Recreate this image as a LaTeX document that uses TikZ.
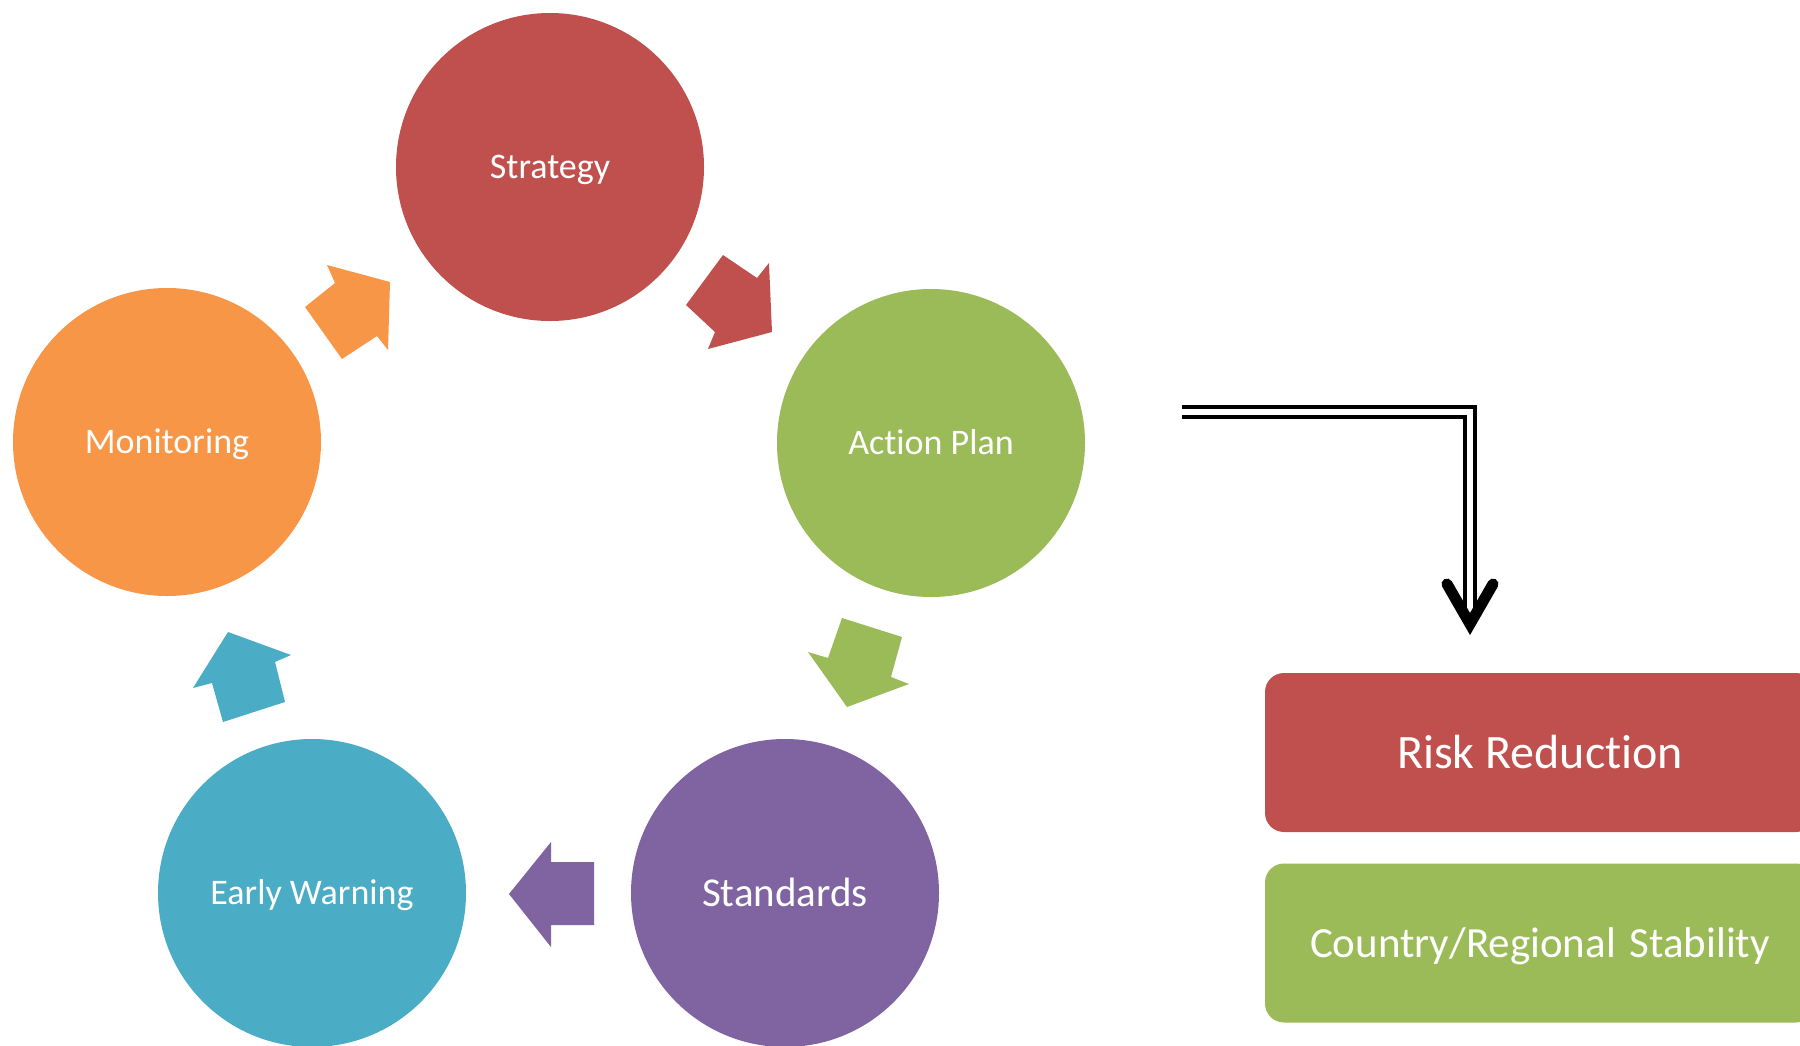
\documentclass[tikz,border=0pt]{standalone}
\usepackage{fontspec}
\setmainfont[Ligatures=NoCommon]{Carlito}
\definecolor{cRed}{HTML}{C0504D}
\definecolor{cGreen}{HTML}{9BBB59}
\definecolor{cPurple}{HTML}{8064A2}
\definecolor{cBlue}{HTML}{4BACC6}
\definecolor{cOrange}{HTML}{F79646}
\begin{document}
\begin{tikzpicture}[x=1pt,y=-1pt,
  stage/.style={circle, minimum size=308pt, inner sep=0pt, text=white,
    font=\fontsize{36}{40}\selectfont, text height=23pt, text depth=0pt},
  bigstage/.style={stage, font=\fontsize{41}{46}\selectfont, text height=26.5pt},
  result/.style={rectangle, rounded corners=19pt, minimum width=550pt, minimum height=159pt,
    inner sep=0pt, text=white, text depth=0pt},
  dbl/.style={draw=black, double=white, line width=4.5pt, double distance=5.5pt},
  vtip/.style={draw=black, line width=11pt, line cap=round, line join=miter}
]
\clip (0,0) rectangle (1800,1045);
\fill[white] (0,0) rectangle (1800,1045);

% cycle stages
\node[stage, fill=cRed]    (strategy)   at (550,167) {Strategy};
\node[stage, fill=cGreen]  (action)     at (931,443) {Action Plan};
\node[bigstage, fill=cPurple] (standards) at (785,893) {Standards};
\node[stage, fill=cBlue]   (warning)    at (312,893) {Early Warning};
\node[stage, fill=cOrange] (monitoring) at (167,442) {Monitoring};

% block arrows of the cycle
\fill[cRed]    (723,255) -- (757,278) -- (769,263) -- (772,332) -- (708,349) -- (715,332) -- (686,305) -- cycle;
\fill[cGreen]  (842,618) -- (902,637) -- (891,677) -- (909,684) -- (847,707) -- (808,652) -- (828,658) -- cycle;
\fill[cPurple] (551,842) -- (551,862) -- (594,862) -- (594,925) -- (551,925) -- (551,947) -- (509,894) -- cycle;
\fill[cBlue]   (228,632) -- (291,655) -- (275,662) -- (285,702) -- (223,722) -- (212,683) -- (193,688) -- cycle;
\fill[cOrange] (327,265) -- (390,282) -- (388,350) -- (377,336) -- (342,359) -- (305,307) -- (335,283) -- cycle;

% outcome boxes
\node[result, fill=cRed, font=\fontsize{48}{54}\selectfont, text height=31pt]
  (risk) at (1540,752.5) {Risk Reduction};
\node[result, fill=cGreen, font=\fontsize{43}{50}\selectfont, text height=28pt]
  (stability) at (1540,943) {Country/Regional\hspace{4pt} Stability};

% double connector with open arrow head
\coordinate (from) at (1182,412);
\coordinate (bend) at (1470,412);
\coordinate (to) at (1470,612);
\coordinate (tip) at (1470,624);
\draw[dbl] (from) -- (bend) -- (to);
\draw[vtip] ([xshift=-23pt,yshift=40pt]tip) -- (tip) -- ([xshift=23pt,yshift=40pt]tip);
\end{tikzpicture}
\end{document}
